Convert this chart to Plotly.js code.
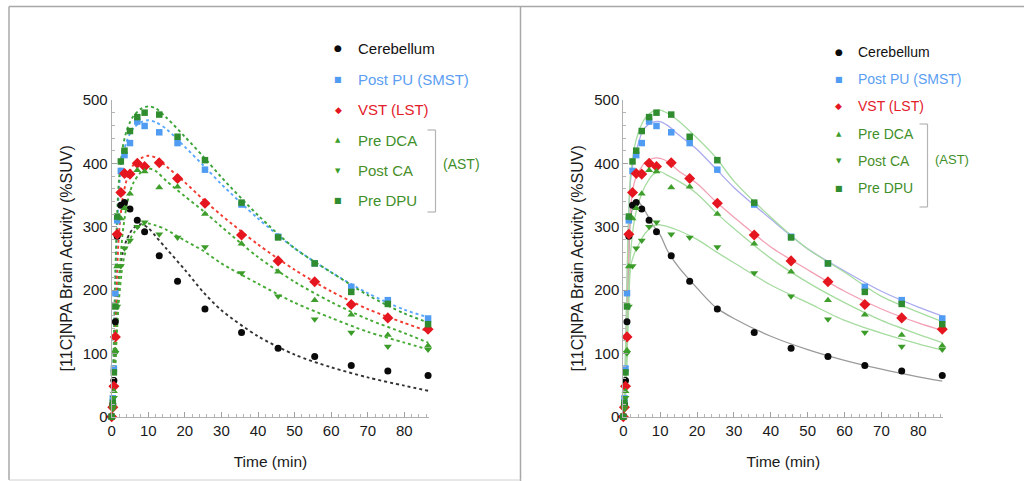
<!DOCTYPE html>
<html>
<head>
<meta charset="utf-8">
<script src="https://cdn.plot.ly/plotly-3.0.1.min.js"></script>
<style>html,body{margin:0;padding:0;background:#fff;}#chart{width:1024px;height:481px;}</style>
</head>
<body>
<div id="chart"></div>
<script>
// ---- measured data (time in min, activity in %SUV) ----
const times = [0, 0.3, 0.6, 1.0, 1.5, 2.5, 3.5, 5, 7, 9, 13, 18, 25.5, 35.5, 45.5, 55.5, 65.5, 75.5, 86.5];
const cerebellum = [0, 20, 57, 150, 285, 334, 338, 328, 310, 292, 254, 214, 170, 133, 108, 95, 81, 72, 65];
const postPU     = [0, 29, 76, 195, 310, 388, 413, 432, 466, 459, 449, 432, 390, 335, 284, 242, 205, 184, 155];
const vst        = [0, 15, 48, 126, 288, 354, 384, 383, 400, 395, 401, 376, 337, 287, 246, 213, 177, 156, 138];
const preDCA     = [0, 18, 40, 105, 237, 313, 329, 352, 389, 387, 362, 363, 320, 273, 229, 184, 161, 129, 112];
const postCA     = [0, 12, 30, 100, 174, 238, 266, 278, 300, 307, 288, 283, 268, 227, 190, 154, 133, 111, 106];
const preDPU     = [0, 22, 70, 174, 316, 403, 420, 451, 473, 480, 477, 442, 405, 338, 283, 242, 197, 178, 146];

// ---- fitted curves ----
const fitTimes = [0, 0.5, 1, 1.5, 2, 3, 4, 5, 6, 8, 10, 12, 15, 20, 25, 30, 40, 50, 60, 70, 80, 86.5];
// left panel (dotted)
const fitL_cerebellum = [0, 50, 130, 185, 220, 258, 278, 290, 298, 304, 298, 285, 265, 232, 197, 168, 127, 98, 78, 62, 49, 41];
const fitL_postPU     = [0, 80, 200, 300, 360, 410, 433, 447, 456, 465, 468, 465, 454, 426, 397, 367, 313, 266, 228, 195, 169, 157];
const fitL_vst        = [0, 50, 140, 230, 290, 345, 372, 388, 398, 408, 412, 409, 395, 370, 343, 318, 272, 232, 198, 170, 148, 135];
const fitL_preDCA     = [0, 30, 90, 160, 215, 290, 330, 355, 370, 386, 392, 388, 372, 348, 325, 300, 252, 213, 181, 154, 132, 117];
const fitL_postCA     = [0, 25, 80, 140, 185, 240, 265, 280, 290, 302, 305, 302, 295, 278, 262, 242, 210, 180, 156, 134, 117, 106];
const fitL_preDPU     = [0, 100, 230, 320, 375, 425, 450, 465, 475, 486, 490, 487, 472, 442, 411, 378, 318, 266, 228, 192, 163, 149];
// right panel (solid)
const fitR_cerebellum = [0, 40, 148, 253, 315, 337, 340, 333, 324, 303, 287, 262, 236, 203, 173, 155, 127, 106, 89, 75, 63, 56];
const fitR_postPU     = [0, 70, 200, 320, 375, 410, 430, 448, 457, 465, 466, 460, 445, 422, 392, 362, 312, 265, 230, 198, 173, 159];
const fitR_vst        = [0, 50, 160, 270, 330, 370, 385, 395, 402, 408, 408, 403, 388, 368, 340, 315, 268, 232, 198, 170, 148, 136];
const fitR_preDCA     = [0, 25, 100, 200, 260, 310, 335, 352, 365, 382, 387, 381, 372, 352, 323, 297, 250, 212, 180, 152, 130, 117];
const fitR_postCA     = [0, 20, 90, 180, 237, 258, 270, 281, 290, 301, 303, 300, 294, 280, 261, 243, 208, 180, 152, 132, 115, 105];
const fitR_preDPU     = [0, 80, 220, 330, 385, 425, 447, 462, 472, 482, 484, 479, 467, 440, 410, 372, 315, 265, 228, 190, 165, 150];

const seriesNames = ['Cerebellum', 'Post PU (SMST)', 'VST (LST)', 'Pre DCA', 'Post CA', 'Pre DPU'];
const groupLabel = '(AST)';
const xTitle = 'Time (min)';
const yTitle = '[11C]NPA Brain Activity (%SUV)';

// ---- styling ----
const W = 1024, H = 481;
const FONT = 'Liberation Sans, Arial, Helvetica, sans-serif';
const series = [
  {y: cerebellum, fl: fitL_cerebellum, fr: fitR_cerebellum, sym: 'circle', size: 7, mc: '#0a0a0a', lc: '#333333', rc: '#9a9a9a', tc: '#111111'},
  {y: postPU, fl: fitL_postPU, fr: fitR_postPU, sym: 'square', size: 6.5, mc: '#4f9cf2', lc: '#58a8ff', rc: '#aaaaf0', tc: '#5b9ef2'},
  {y: vst, fl: fitL_vst, fr: fitR_vst, sym: 'diamond', size: 8.5, mc: '#e5161f', lc: '#f23a30', rc: '#f2a0b4', tc: '#e3202a'},
  {y: preDCA, fl: fitL_preDCA, fr: fitR_preDCA, sym: 'triangle-up', size: 7, mc: '#3f9e2c', lc: '#44aa33', rc: '#a6dca0', tc: '#3f8f2a'},
  {y: postCA, fl: fitL_postCA, fr: fitR_postCA, sym: 'triangle-down', size: 7, mc: '#3c9c2a', lc: '#44aa33', rc: '#a6dca0', tc: '#4a8f2a'},
  {y: preDPU, fl: fitL_preDPU, fr: fitR_preDPU, sym: 'square', size: 6.5, mc: '#2f8d2f', lc: '#3aa43a', rc: '#a6dca0', tc: '#3f8f2a'}
];

const traces = [];
series.forEach((s, i) => {
  traces.push({x: fitTimes, y: s.fl, xaxis: 'x', yaxis: 'y', mode: 'lines', type: 'scatter',
    line: {color: s.lc, width: 1.9, dash: 'dot', shape: 'spline', smoothing: 0.8}, showlegend: false, hoverinfo: 'skip', cliponaxis: false});
  traces.push({x: fitTimes, y: s.fr, xaxis: 'x2', yaxis: 'y2', mode: 'lines', type: 'scatter',
    line: {color: s.rc, width: 1.3, shape: 'spline', smoothing: 0.8}, showlegend: false, hoverinfo: 'skip', cliponaxis: false});
});
series.forEach((s, i) => {
  ['x', 'x2'].forEach((xa, k) => {
    traces.push({x: times, y: s.y, xaxis: xa, yaxis: k ? 'y2' : 'y', mode: 'markers', type: 'scatter', name: seriesNames[i],
      marker: {symbol: s.sym, size: s.size, color: s.mc, line: {width: 0}}, showlegend: false, cliponaxis: false});
  });
});

// pixel helpers
const px = v => v / W, py = v => 1 - v / H;
const yDom = [py(416.7), py(100)];
const xRange = [0, 86.8];
const leftX0 = 111.7, leftScale = 3.6575;
const rightX0 = 623.3, rightScale = 3.6875;

function axisX(x0, scale) {
  return {
    domain: [px(x0), px(x0 + xRange[1] * scale)], range: xRange,
    showgrid: false, zeroline: false, showline: true, linecolor: '#b0b0b0', linewidth: 1,
    ticks: 'inside', ticklen: 5, tickcolor: '#a0a0a0', tickwidth: 1, dtick: 10, tick0: 0,
    minor: {dtick: 2, ticks: 'inside', ticklen: 3, tickcolor: '#b5b5b5', tickwidth: 1, showgrid: false},
    tickfont: {family: FONT, size: 15, color: '#1a1a1a'},
    title: {text: xTitle, font: {family: FONT, size: 15.5, color: '#1a1a1a'}, standoff: 18},
    fixedrange: true
  };
}
function axisY() {
  return {
    domain: yDom, range: [0, 500],
    showgrid: false, zeroline: false, showline: true, linecolor: '#b0b0b0', linewidth: 1,
    ticks: 'inside', ticklen: 5, tickcolor: '#a0a0a0', tickwidth: 1, dtick: 100, tick0: 0,
    minor: {dtick: 20, ticks: 'inside', ticklen: 3, tickcolor: '#b5b5b5', tickwidth: 1, showgrid: false},
    tickfont: {family: FONT, size: 15, color: '#1a1a1a'},
    title: {text: yTitle, font: {family: FONT, size: 16, color: '#1a1a1a'}, standoff: 6},
    fixedrange: true
  };
}
const xa1 = axisX(leftX0, leftScale); xa1.anchor = 'y';
const xa2 = axisX(rightX0, rightScale); xa2.anchor = 'y2';
const ya1 = axisY(); ya1.anchor = 'x';
const ya2 = axisY(); ya2.anchor = 'x2';

// legends (drawn as text)
const symbolChars = ['\u25CF', '\u25A0', '\u25C6', '\u25B2', '\u25BC', '\u25A0'];
const symbolSizes = [9, 8, 9, 7, 7, 8];
const annotations = [];
const shapes = [];
function legend(symX, textX, y0, gap, fs, brX, brTop, brBot, astX, astY) {
  series.forEach((s, i) => {
    const y = y0 + i * gap;
    annotations.push({xref: 'paper', yref: 'paper', x: px(symX), y: py(y), text: symbolChars[i], showarrow: false,
      xanchor: 'center', yanchor: 'middle', font: {family: 'DejaVu Sans', size: symbolSizes[i], color: s.mc}});
    annotations.push({xref: 'paper', yref: 'paper', x: px(textX), y: py(y), text: seriesNames[i], showarrow: false,
      xanchor: 'left', yanchor: 'middle', font: {family: FONT, size: fs, color: s.tc}});
  });
  annotations.push({xref: 'paper', yref: 'paper', x: px(astX), y: py(astY), text: groupLabel, showarrow: false,
    xanchor: 'left', yanchor: 'middle', font: {family: FONT, size: fs - 1, color: '#3f8f2a'}});
  const lc = {color: '#b4b4b4', width: 1.2};
  shapes.push({type: 'line', xref: 'paper', yref: 'paper', x0: px(brX), x1: px(brX), y0: py(brTop), y1: py(brBot), line: lc});
  shapes.push({type: 'line', xref: 'paper', yref: 'paper', x0: px(brX - 8), x1: px(brX), y0: py(brTop), y1: py(brTop), line: lc});
  shapes.push({type: 'line', xref: 'paper', yref: 'paper', x0: px(brX - 8), x1: px(brX), y0: py(brBot), y1: py(brBot), line: lc});
}
legend(338, 356, 48.5, 30.5, 15, 435.5, 130, 212, 441, 164);
legend(838.5, 856, 52, 27.2, 14, 927.5, 124, 207, 933, 159);

// frame
const fc = {color: '#a8a8a8', width: 1.5};
shapes.push({type: 'line', xref: 'paper', yref: 'paper', x0: px(9), x1: 1, y0: py(6.5), y1: py(6.5), line: fc});
shapes.push({type: 'line', xref: 'paper', yref: 'paper', x0: px(9), x1: px(9), y0: py(6.5), y1: py(480), line: fc});
shapes.push({type: 'line', xref: 'paper', yref: 'paper', x0: px(520.5), x1: px(520.5), y0: py(6.5), y1: py(481), line: fc});
shapes.push({type: 'line', xref: 'paper', yref: 'paper', x0: px(9), x1: px(520.5), y0: py(480), y1: py(480), line: {color: '#d0d0d0', width: 1}});

const layout = {
  width: W, height: H, margin: {l: 0, r: 0, t: 0, b: 0},
  paper_bgcolor: '#ffffff', plot_bgcolor: 'rgba(0,0,0,0)',
  showlegend: false,
  xaxis: xa1, yaxis: ya1, xaxis2: xa2, yaxis2: ya2,
  annotations: annotations, shapes: shapes,
  font: {family: FONT}
};

Plotly.newPlot('chart', traces, layout, {displayModeBar: false, staticPlot: true});
</script>
</body>
</html>
